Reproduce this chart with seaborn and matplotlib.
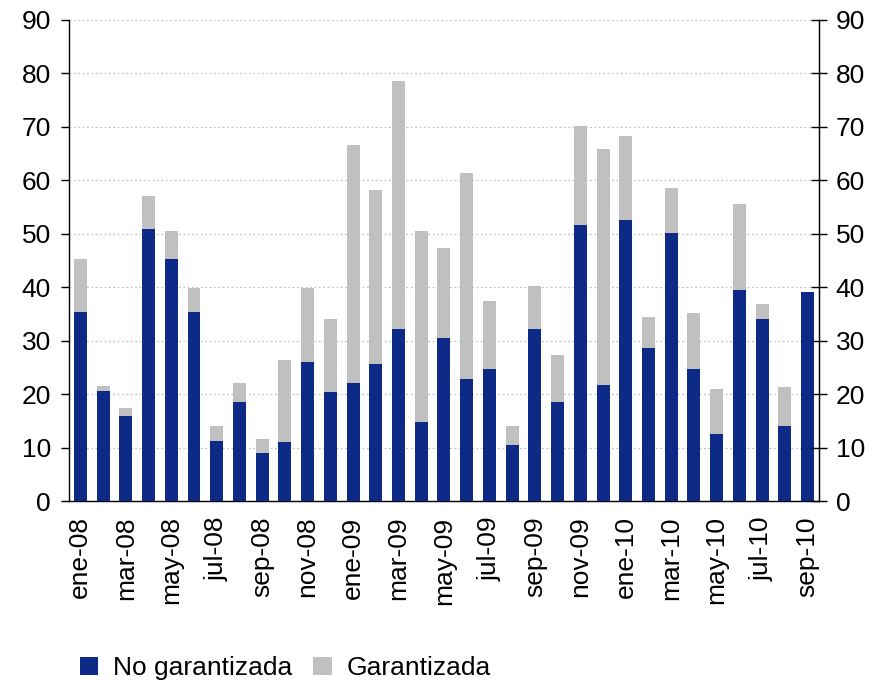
import pandas as pd
import matplotlib.pyplot as plt
import seaborn as sns
from matplotlib.patches import Patch

months = ['ene', 'feb', 'mar', 'abr', 'may', 'jun', 'jul', 'ago', 'sep', 'oct', 'nov', 'dic']
periods = [f"{m}-{y}" for y in ['08', '09'] for m in months] + [f"{m}-10" for m in months[:9]]

no_garantizada = [35.3, 20.6, 16.0, 50.9, 45.2, 35.3, 11.3, 18.6, 9.0, 11.0, 26.0, 20.5,
                  22.1, 25.6, 32.1, 14.8, 30.6, 22.9, 24.8, 10.6, 32.1, 18.6, 51.7, 21.8,
                  52.6, 28.7, 50.2, 24.8, 12.5, 39.5, 34.1, 14.1, 39.1]
total = [45.2, 21.6, 17.5, 57.0, 50.6, 39.8, 14.0, 22.1, 11.6, 26.4, 39.8, 34.0,
         66.6, 58.1, 78.6, 50.5, 47.4, 61.3, 37.5, 14.0, 40.2, 27.4, 70.1, 65.9,
         68.2, 34.4, 58.6, 35.2, 20.9, 55.5, 36.8, 21.3, 39.1]
garantizada = [round(t - n, 1) for t, n in zip(total, no_garantizada)]

df = pd.DataFrame({'Periodo': periods, 'No garantizada': no_garantizada,
                   'Garantizada': garantizada})
df['Total'] = df['No garantizada'] + df['Garantizada']

blue = '#0E2A87'
grey = '#C0C0C0'
fs = 19

sns.set_style('white')
plt.rcParams['font.family'] = ['Liberation Sans', 'DejaVu Sans']
plt.rcParams['text.color'] = 'black'
plt.rcParams['xtick.color'] = 'black'
plt.rcParams['ytick.color'] = 'black'

fig = plt.figure(figsize=(8.89, 6.81), dpi=100)
ax = fig.add_axes([0.0776, 0.264, 0.8436, 0.707])

# stacked: total in grey, blue part drawn on top
sns.barplot(data=df, x='Periodo', y='Total', color=grey, width=0.57,
            saturation=1, edgecolor='none', ax=ax, zorder=2)
sns.barplot(data=df, x='Periodo', y='No garantizada', color=blue, width=0.57,
            saturation=1, edgecolor='none', ax=ax, zorder=3)

ax.set_xlim(-0.5, len(periods) - 0.5)
ax.set_ylim(0, 90)
ax.set_yticks(range(0, 91, 10))
ax.yaxis.grid(True, linestyle=(0, (1.5, 2)), color='#C4C4C4', linewidth=0.9, zorder=0)
ax.set_axisbelow(True)
ax.set_xlabel('')
ax.set_ylabel('')

# labels every 2 months, tick marks on category boundaries
ax.set_xticks(range(0, len(periods), 2))
ax.set_xticklabels(periods[::2], rotation=90, fontsize=fs)
ax.set_xticks([i - 0.5 for i in range(0, len(periods), 2)], minor=True)
ax.tick_params(axis='x', which='major', length=0, pad=11)
ax.tick_params(axis='x', which='minor', length=6, width=1, direction='out', color='black')

ax.tick_params(axis='y', which='major', labelsize=fs, length=6, width=1,
               direction='out', color='black', pad=7, left=True)

for side in ['left', 'bottom', 'right']:
    ax.spines[side].set_color('black')
    ax.spines[side].set_linewidth(1)
ax.spines['top'].set_visible(False)

ax2 = ax.twinx()
ax2.set_ylim(0, 90)
ax2.set_yticks(range(0, 91, 10))
ax2.tick_params(axis='y', labelsize=fs, length=12, width=1, direction='inout',
                color='black', pad=6)
ax2.spines['top'].set_visible(False)
ax2.spines['left'].set_visible(False)
ax2.spines['bottom'].set_visible(False)
ax2.spines['right'].set_color('black')
ax2.grid(False)

handles = [Patch(facecolor=blue, edgecolor='none'), Patch(facecolor=grey, edgecolor='none')]
fig.legend(handles, ['No garantizada', 'Garantizada'], loc='center left',
           bbox_to_anchor=(0.09, 0.019), ncol=2, frameon=False, fontsize=fs,
           handlelength=0.7, handleheight=0.7, handletextpad=0.55, columnspacing=0.8,
           borderaxespad=0, borderpad=0)

fig.savefig('out.png', dpi=100)
